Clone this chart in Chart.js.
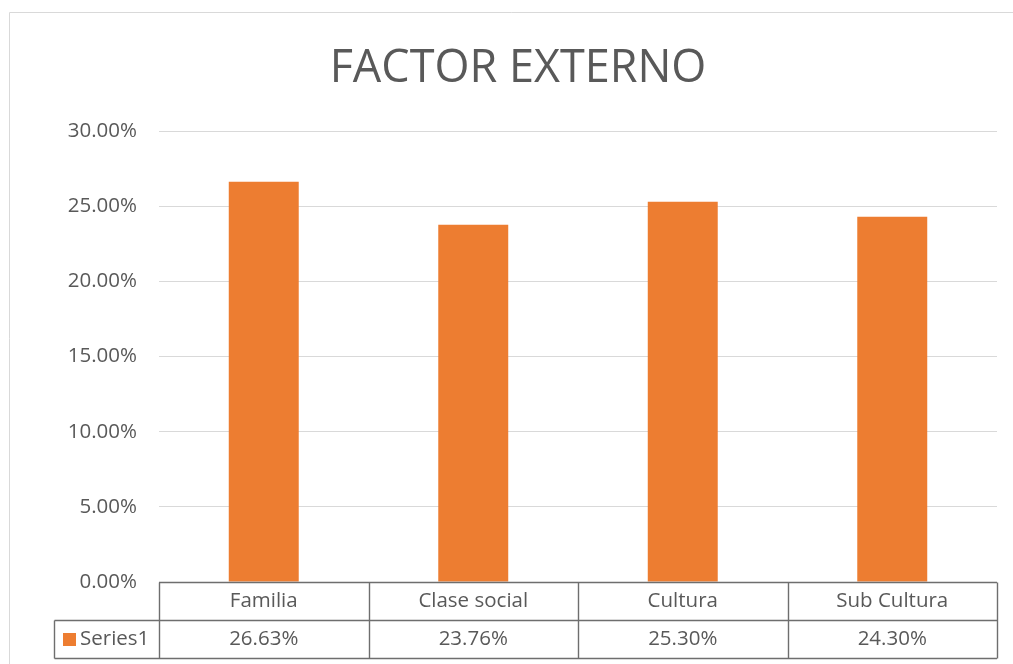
<!DOCTYPE html>
<html>
<head>
<meta charset="utf-8">
<script src="https://cdn.jsdelivr.net/npm/chart.js@4"></script>
<style>
  html, body { margin: 0; padding: 0; background: #fff; }
  #wrap { width: 1013px; height: 664px; }
</style>
</head>
<body>
<div id="wrap"><canvas id="chart"></canvas></div>
<script>
const categories = ["Familia", "Clase social", "Cultura", "Sub Cultura"];
const series1 = [26.63, 23.76, 25.30, 24.30];
const seriesName = "Series1";
const yTicks = [0, 5, 10, 15, 20, 25, 30];

const FONT = "'Open Sans', sans-serif";
const TEXT = "#595959";
const ORANGE = "#ED7D31";
const TABLE_LINE = "#6e6e6e";

// outer frame + data table under the plot
const tablePlugin = {
  id: "dataTable",
  beforeDraw(chart) {
    const c = chart.ctx;
    c.save();
    c.strokeStyle = "#d9d9d9";
    c.lineWidth = 1;
    c.beginPath();
    c.moveTo(9.5, 664);
    c.lineTo(9.5, 12.5);
    c.lineTo(1013, 12.5);
    c.stroke();
    c.restore();
  },
  afterDraw(chart) {
    const c = chart.ctx;
    const area = chart.chartArea;
    const x = chart.scales.x;
    const n = categories.length;
    const step = (area.right - area.left) / n;
    const top = Math.round(area.bottom) + 0.5;
    const mid = top + 38;
    const bot = mid + 38;
    const left = 54.5;

    c.save();
    c.strokeStyle = TABLE_LINE;
    c.lineWidth = 1.4;
    c.beginPath();
    c.moveTo(area.left, top); c.lineTo(area.right, top);
    c.moveTo(left, mid); c.lineTo(area.right, mid);
    c.moveTo(left, bot); c.lineTo(area.right, bot);
    c.moveTo(left, mid); c.lineTo(left, bot);
    for (let i = 0; i <= n; i++) {
      const px = Math.round(area.left + i * step) + 0.5;
      c.moveTo(px, top); c.lineTo(px, bot);
    }
    c.stroke();

    c.fillStyle = TEXT;
    c.font = "20.5px " + FONT;
    c.textAlign = "center";
    c.textBaseline = "middle";
    categories.forEach((cat, i) => {
      const cx = x.getPixelForValue(i);
      c.fillText(cat, cx, (top + mid) / 2);
      c.fillText(series1[i].toFixed(2) + "%", cx, (mid + bot) / 2);
    });

    // legend key
    c.fillStyle = ORANGE;
    c.fillRect(63, (mid + bot) / 2 - 6.5, 13, 13);
    c.fillStyle = TEXT;
    c.textAlign = "left";
    c.fillText(seriesName, 80, (mid + bot) / 2);
    c.restore();
  }
};

new Chart(document.getElementById("chart"), {
  type: "bar",
  data: {
    labels: categories,
    datasets: [
      {
        label: seriesName,
        data: series1,
        backgroundColor: ORANGE,
        categoryPercentage: 1,
        barPercentage: 0.334,
      },
    ],
  },
  options: {
    responsive: true,
    maintainAspectRatio: false,
    animation: false,
    layout: {
      padding: { left: 39, right: 16, top: 0, bottom: 82 },
    },
    scales: {
      x: {
        display: false,
      },
      y: {
        min: 0,
        max: 30,
        afterFit: function (scale) {
          scale.width = 120;
        },
        afterBuildTicks: function (scale) {
          scale.ticks = yTicks.map((v) => ({ value: v }));
        },
        ticks: {
          padding: 22,
          color: TEXT,
          font: { family: FONT, size: 20.5 },
          callback: function (value) {
            return value.toFixed(2) + "%";
          },
        },
        grid: {
          color: "#d9d9d9",
          drawTicks: false,
        },
        border: { display: false },
      },
    },
    plugins: {
      legend: { display: false },
      tooltip: { enabled: false },
      title: {
        display: true,
        text: "FACTOR EXTERNO",
        color: TEXT,
        font: { family: FONT, size: 45, weight: "normal", lineHeight: 1.2 },
        padding: { top: 42.5, bottom: 34.5 },
      },
    },
  },
  plugins: [tablePlugin],
});
</script>
</body>
</html>
